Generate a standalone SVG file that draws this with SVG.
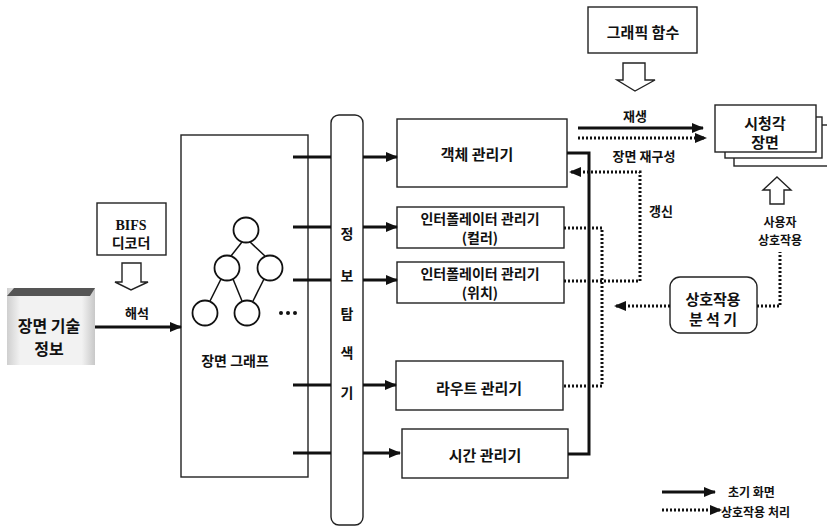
<svg xmlns="http://www.w3.org/2000/svg" width="827" height="528" viewBox="0 0 827 528">
<style>
text{font-family:"Noto Sans CJK KR","Noto Sans",sans-serif;font-weight:700;fill:#111;text-anchor:middle;dominant-baseline:central}
.box{fill:#fff;stroke:#222;stroke-width:1.4}
.solid{fill:none;stroke:#111;stroke-width:3}
.dot{fill:none;stroke:#111;stroke-width:3;stroke-dasharray:2 2}
.thin{fill:none;stroke:#111;stroke-width:1.5}
.hollow{fill:#fff;stroke:#222;stroke-width:1.4}
.node{fill:#fff;stroke:#111;stroke-width:1.8}
.t12{font-size:12px}
.t13{font-size:13px}
.t14{font-size:14px}
.t15{font-size:15px}
.t16{font-size:16px}
</style>
<defs>
<marker id="ah" markerUnits="userSpaceOnUse" markerWidth="12" markerHeight="10" refX="11" refY="5" orient="auto"><path d="M0,0 L12,5 L0,10 z" fill="#111"/></marker>
<linearGradient id="gray" x1="0" y1="0" x2="1" y2="0">
<stop offset="0" stop-color="#cfcfcf"/><stop offset="0.15" stop-color="#f2f2f2"/><stop offset="0.85" stop-color="#f2f2f2"/><stop offset="1" stop-color="#c8c8c8"/>
</linearGradient>
</defs>

<g id="scene-desc">
<rect x="7" y="288" width="88" height="77" fill="url(#gray)"/>
<path d="M7,296 L14,288 H95 L90,296 Z" fill="#555"/>
<text class="t16" x="49" y="325">장면 기술</text>
<text class="t16" x="49" y="348">정보</text>
</g>

<g id="bifs">
<rect class="box" x="97" y="203" width="69" height="52"/>
<text class="t14" x="131" y="225" style="font-family:'Liberation Serif',serif">BIFS</text>
<text class="t14" x="131" y="242">디코더</text>
<polygon class="hollow" points="122,263 141,263 141,282 148,282 131,290 115,282 122,282"/>
</g>

<g id="scene-graph">
<rect class="box" x="181" y="135" width="127" height="342"/>
<g class="thin">
<line x1="242" y1="242" x2="231" y2="256"/>
<line x1="250" y1="242" x2="265" y2="256"/>
<line x1="221" y1="279" x2="210" y2="301"/>
<line x1="233" y1="279" x2="242" y2="301"/>
<line x1="264" y1="279" x2="253" y2="301"/>
</g>
<circle class="node" cx="246" cy="230" r="12.5"/>
<circle class="node" cx="227" cy="268" r="12.5"/>
<circle class="node" cx="270" cy="268" r="12.5"/>
<circle class="node" cx="205" cy="313" r="12.5"/>
<circle class="node" cx="247" cy="313" r="12.5"/>
<circle cx="281" cy="313" r="2" fill="#111"/>
<circle cx="288" cy="313" r="2" fill="#111"/>
<circle cx="295" cy="313" r="2" fill="#111"/>
<text class="t14" x="235" y="360">장면 그래프</text>
</g>

<g id="info-search">
<rect class="box" x="331" y="115" width="32" height="410" rx="8"/>
<text class="t14" x="347" y="233">정</text>
<text class="t14" x="347" y="275">보</text>
<text class="t14" x="347" y="313">탐</text>
<text class="t14" x="347" y="352">색</text>
<text class="t14" x="347" y="392">기</text>
</g>

<g id="object-manager">
<rect class="box" x="397" y="119" width="170" height="68"/>
<text class="t15" x="477" y="153">객체 관리기</text>
</g>
<g id="interp-color">
<rect class="box" x="397" y="207" width="167" height="41"/>
<text class="t14" x="480" y="218">인터폴레이터 관리기</text>
<text class="t14" x="480" y="237">(컬러)</text>
</g>
<g id="interp-pos">
<rect class="box" x="397" y="262" width="167" height="41"/>
<text class="t14" x="480" y="273">인터폴레이터 관리기</text>
<text class="t14" x="480" y="292">(위치)</text>
</g>
<g id="route-manager">
<rect class="box" x="396" y="361" width="167" height="49"/>
<text class="t15" x="479" y="387">라우트 관리기</text>
</g>
<g id="time-manager">
<rect class="box" x="402" y="429" width="166" height="49"/>
<text class="t15" x="485" y="454">시간 관리기</text>
</g>

<g id="graphic-fn">
<rect class="box" x="588" y="7" width="109" height="46"/>
<text class="t15" x="643" y="31">그래픽 함수</text>
<polygon class="hollow" points="623,63 645,63 645,80 655,80 635,91 617,80 623,80"/>
</g>

<g id="av-scene">
<rect class="box" x="734" y="125" width="100" height="41"/>
<rect class="box" x="725" y="117" width="97" height="41"/>
<rect class="box" x="715" y="105" width="101" height="47"/>
<text class="t15" x="765" y="122">시청각</text>
<text class="t15" x="765" y="141">장면</text>
</g>

<g id="user-interaction">
<polygon class="hollow" points="777,177 791,190 784,190 784,204 770,204 770,190 763,190"/>
<text class="t12" x="780" y="221">사용자</text>
<text class="t12" x="780" y="239">상호작용</text>
</g>

<g id="analyzer">
<rect class="box" x="670" y="277" width="87" height="56" rx="10"/>
<text class="t15" x="713" y="298">상호작용</text>
<text class="t15" x="713" y="318">분 석 기</text>
</g>

<g id="connectors">
<line class="solid" x1="95" y1="327" x2="181" y2="327" marker-end="url(#ah)"/>
<text class="t13" x="137" y="312">해석</text>
<path class="solid" d="M293,157 H331 M293,227 H331 M293,280 H331 M293,385 H331 M293,453 H331"/>
<line class="solid" x1="363" y1="157" x2="397" y2="157" marker-end="url(#ah)"/>
<line class="solid" x1="363" y1="227" x2="397" y2="227" marker-end="url(#ah)"/>
<line class="solid" x1="363" y1="280" x2="397" y2="280" marker-end="url(#ah)"/>
<line class="solid" x1="363" y1="385" x2="396" y2="385" marker-end="url(#ah)"/>
<line class="solid" x1="363" y1="453" x2="400" y2="453" marker-end="url(#ah)"/>
<path class="solid" d="M567,153 H589 V454 H568"/>
<line class="solid" x1="578" y1="128" x2="703" y2="128" marker-end="url(#ah)"/>
<line class="dot" x1="578" y1="138" x2="706" y2="138" marker-end="url(#ah)"/>
<text class="t13" x="635" y="115">재생</text>
<text class="t13" x="644" y="155">장면 재구성</text>
<path class="dot" d="M564,281 H640 V172 H570" marker-end="url(#ah)"/>
<text class="t13" x="661" y="210">갱신</text>
<path class="dot" d="M564,228 H602 V386 H563"/>
<line class="dot" x1="670" y1="306" x2="615" y2="306" marker-end="url(#ah)"/>
<path class="dot" d="M757,306 H780 V252"/>
</g>

<g id="legend">
<line class="solid" x1="662" y1="492" x2="715" y2="492" stroke-width="2.5" marker-end="url(#ah)"/>
<text class="t12" x="728" y="491" style="text-anchor:start">초기 화면</text>
<line class="dot" x1="662" y1="510" x2="721" y2="510" stroke-width="2.5" marker-end="url(#ah)"/>
<text class="t12" x="721" y="511" style="text-anchor:start">상호작용 처리</text>
</g>
</svg>
